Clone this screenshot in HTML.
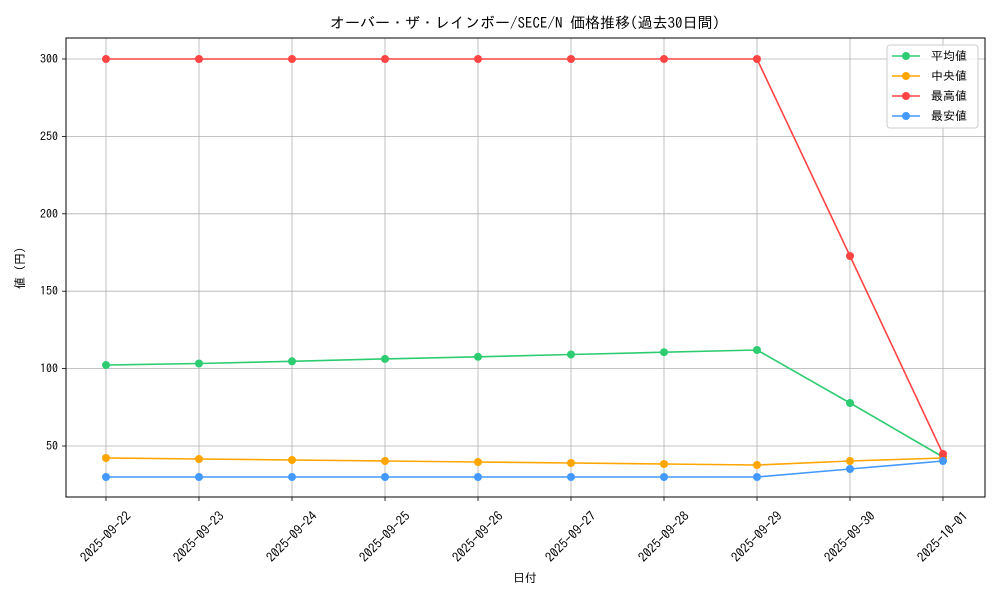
<!DOCTYPE html>
<html><head><meta charset="utf-8"><style>
html,body{margin:0;padding:0;background:#fff;}
svg text{font-family:"IPAGothic","Liberation Sans","Noto Sans CJK JP",sans-serif;fill:#000;}
</style></head><body>
<svg width="1000" height="600" viewBox="0 0 1000 600" xmlns="http://www.w3.org/2000/svg">
<rect width="1000" height="600" fill="#fff"/>
<text x="525" y="28" font-size="15" text-anchor="middle">オーバー・ザ・レインボー/SECE/N 価格推移(過去30日間)</text>
<g stroke="#b0b0b0" stroke-width="0.8">
<line x1="106" y1="38" x2="106" y2="497"/><line x1="199" y1="38" x2="199" y2="497"/><line x1="292" y1="38" x2="292" y2="497"/><line x1="385" y1="38" x2="385" y2="497"/><line x1="478" y1="38" x2="478" y2="497"/><line x1="571" y1="38" x2="571" y2="497"/><line x1="664" y1="38" x2="664" y2="497"/><line x1="757" y1="38" x2="757" y2="497"/><line x1="850" y1="38" x2="850" y2="497"/><line x1="943" y1="38" x2="943" y2="497"/>
<line x1="66" y1="59" x2="985" y2="59"/><line x1="66" y1="136.4" x2="985" y2="136.4"/><line x1="66" y1="213.8" x2="985" y2="213.8"/><line x1="66" y1="291.2" x2="985" y2="291.2"/><line x1="66" y1="368.6" x2="985" y2="368.6"/><line x1="66" y1="446" x2="985" y2="446"/>
</g>
<rect x="66" y="38" width="919" height="459" fill="none" stroke="#000" stroke-width="1"/>
<g stroke="#000" stroke-width="0.8">
<line x1="62" y1="59" x2="66" y2="59"/><line x1="62" y1="136.4" x2="66" y2="136.4"/><line x1="62" y1="213.8" x2="66" y2="213.8"/><line x1="62" y1="291.2" x2="66" y2="291.2"/><line x1="62" y1="368.6" x2="66" y2="368.6"/><line x1="62" y1="446" x2="66" y2="446"/>
</g>
<g font-size="12" text-anchor="end">
<text x="58" y="63">300</text><text x="58" y="140.4">250</text><text x="58" y="217.8">200</text><text x="58" y="295.2">150</text><text x="58" y="372.6">100</text><text x="58" y="450">50</text>
</g>
<text transform="translate(24,268) rotate(-90)" font-size="12" text-anchor="middle">値 (円)</text>
<text x="525" y="582" font-size="12" text-anchor="middle">日付</text>
<g stroke="#000" stroke-width="0.8">
<line x1="106" y1="497" x2="106" y2="501"/><line x1="199" y1="497" x2="199" y2="501"/><line x1="292" y1="497" x2="292" y2="501"/><line x1="385" y1="497" x2="385" y2="501"/><line x1="478" y1="497" x2="478" y2="501"/><line x1="571" y1="497" x2="571" y2="501"/><line x1="664" y1="497" x2="664" y2="501"/><line x1="757" y1="497" x2="757" y2="501"/><line x1="850" y1="497" x2="850" y2="501"/><line x1="943" y1="497" x2="943" y2="501"/>
</g>
<g font-size="13" text-anchor="middle">
<text transform="translate(106,537) rotate(-45)" dy="4">2025-09-22</text>
<text transform="translate(199,537) rotate(-45)" dy="4">2025-09-23</text>
<text transform="translate(292,537) rotate(-45)" dy="4">2025-09-24</text>
<text transform="translate(385,537) rotate(-45)" dy="4">2025-09-25</text>
<text transform="translate(478,537) rotate(-45)" dy="4">2025-09-26</text>
<text transform="translate(571,537) rotate(-45)" dy="4">2025-09-27</text>
<text transform="translate(664,537) rotate(-45)" dy="4">2025-09-28</text>
<text transform="translate(757,537) rotate(-45)" dy="4">2025-09-29</text>
<text transform="translate(850,537) rotate(-45)" dy="4">2025-09-30</text>
<text transform="translate(943,537) rotate(-45)" dy="4">2025-10-01</text>
</g>
<g fill="none" stroke-width="1.6">
<polyline stroke="#2ecc71" points="106,365 199,363.5 292,361.3 385,358.9 478,356.8 571,354.5 664,352.2 757,350 850,403 943,457"/>
<polyline stroke="#ffa500" points="106,458 199,459 292,460 385,461 478,462 571,463 664,464 757,465 850,461 943,458"/>
<polyline stroke="#ff4444" points="106,59 199,59 292,59 385,59 478,59 571,59 664,59 757,59 850,256 943,454"/>
<polyline stroke="#4499ff" points="106,477 199,477 292,477 385,477 478,477 571,477 664,477 757,477 850,469 943,461"/>
</g>
<g fill="#2ecc71"><circle cx="106" cy="365" r="4"/><circle cx="199" cy="363.5" r="4"/><circle cx="292" cy="361.3" r="4"/><circle cx="385" cy="358.9" r="4"/><circle cx="478" cy="356.8" r="4"/><circle cx="571" cy="354.5" r="4"/><circle cx="664" cy="352.2" r="4"/><circle cx="757" cy="350" r="4"/><circle cx="850" cy="403" r="4"/><circle cx="943" cy="457" r="4"/></g>
<g fill="#ffa500"><circle cx="106" cy="458" r="4"/><circle cx="199" cy="459" r="4"/><circle cx="292" cy="460" r="4"/><circle cx="385" cy="461" r="4"/><circle cx="478" cy="462" r="4"/><circle cx="571" cy="463" r="4"/><circle cx="664" cy="464" r="4"/><circle cx="757" cy="465" r="4"/><circle cx="850" cy="461" r="4"/><circle cx="943" cy="458" r="4"/></g>
<g fill="#ff4444"><circle cx="106" cy="59" r="4"/><circle cx="199" cy="59" r="4"/><circle cx="292" cy="59" r="4"/><circle cx="385" cy="59" r="4"/><circle cx="478" cy="59" r="4"/><circle cx="571" cy="59" r="4"/><circle cx="664" cy="59" r="4"/><circle cx="757" cy="59" r="4"/><circle cx="850" cy="256" r="4"/><circle cx="943" cy="454" r="4"/></g>
<g fill="#4499ff"><circle cx="106" cy="477" r="4"/><circle cx="199" cy="477" r="4"/><circle cx="292" cy="477" r="4"/><circle cx="385" cy="477" r="4"/><circle cx="478" cy="477" r="4"/><circle cx="571" cy="477" r="4"/><circle cx="664" cy="477" r="4"/><circle cx="757" cy="477" r="4"/><circle cx="850" cy="469" r="4"/><circle cx="943" cy="461" r="4"/></g>
<rect x="887" y="45" width="91" height="83" rx="3" fill="#fff" fill-opacity="0.85" stroke="#ccc"/>
<g stroke-width="1.6">
<line x1="892" y1="56" x2="920" y2="56" stroke="#2ecc71"/><circle cx="906" cy="56" r="4" fill="#2ecc71"/>
<line x1="892" y1="76" x2="920" y2="76" stroke="#ffa500"/><circle cx="906" cy="76" r="4" fill="#ffa500"/>
<line x1="892" y1="96" x2="920" y2="96" stroke="#ff4444"/><circle cx="906" cy="96" r="4" fill="#ff4444"/>
<line x1="892" y1="116" x2="920" y2="116" stroke="#4499ff"/><circle cx="906" cy="116" r="4" fill="#4499ff"/>
</g>
<g font-size="12">
<text x="931" y="60">平均値</text><text x="931" y="80"> 中央値</text><text x="931" y="100">最高値</text><text x="931" y="120">最安値</text>
</g>
</svg>
</body></html>
